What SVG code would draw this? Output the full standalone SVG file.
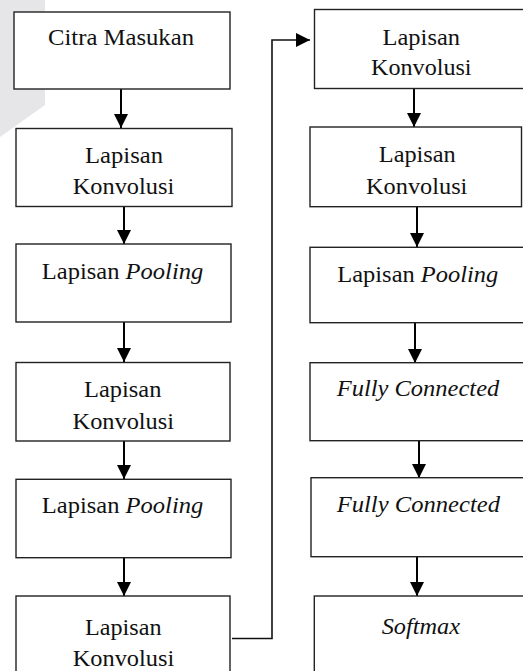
<svg xmlns="http://www.w3.org/2000/svg" width="523" height="671" viewBox="0 0 523 671">
<style>
  .box { fill: #ffffff; stroke: #222222; stroke-width: 1.4; }
  .t { font-size: 24px; fill: #111111; text-anchor: middle; }
  .i { font-style: italic; }
  .c { fill: none; stroke: #000000; stroke-width: 2; }
  .c2 { fill: none; stroke: #111111; stroke-width: 1.6; }
</style>
<defs>
  <marker id="ah" viewBox="0 0 14 14" refX="14" refY="7" markerWidth="14" markerHeight="14" markerUnits="userSpaceOnUse" orient="auto">
    <path d="M0,0 L14,7 L0,14 Z" fill="#000000"/>
  </marker>
</defs>
<rect x="0" y="0" width="523" height="671" fill="#ffffff"/>
<polygon points="0,0 45,0 45,105 0,137" fill="#e6e6e8"/>

<g id="connectors">
  <line class="c" x1="121" y1="89" x2="121" y2="128" marker-end="url(#ah)"/>
  <line class="c" x1="124" y1="207" x2="124" y2="244" marker-end="url(#ah)"/>
  <line class="c" x1="124" y1="322" x2="124" y2="362" marker-end="url(#ah)"/>
  <line class="c" x1="124" y1="441" x2="124" y2="479" marker-end="url(#ah)"/>
  <line class="c" x1="124" y1="558" x2="124" y2="596" marker-end="url(#ah)"/>
  <polyline class="c2" points="232,638.5 272,638.5 272,40 310,40" marker-end="url(#ah)"/>
  <line class="c" x1="414" y1="88" x2="414" y2="127" marker-end="url(#ah)"/>
  <line class="c" x1="417" y1="207" x2="417" y2="247" marker-end="url(#ah)"/>
  <line class="c" x1="415" y1="323" x2="415" y2="363" marker-end="url(#ah)"/>
  <line class="c" x1="419" y1="441" x2="419" y2="478" marker-end="url(#ah)"/>
  <line class="c" x1="417" y1="557" x2="417" y2="596" marker-end="url(#ah)"/>
</g>

<g font-family="Liberation Serif, DejaVu Serif, Noto Serif, Times New Roman, Times, serif">
<g id="n1">
  <rect class="box" x="14" y="12" width="216" height="77"/>
  <text class="t" x="121" y="45" textLength="146" lengthAdjust="spacingAndGlyphs">Citra Masukan</text>
</g>
<g id="n2">
  <rect class="box" x="16" y="128.5" width="216" height="78"/>
  <text class="t" x="124" y="163" textLength="78" lengthAdjust="spacingAndGlyphs">Lapisan</text>
  <text class="t" x="123.5" y="194" textLength="101.5" lengthAdjust="spacingAndGlyphs">Konvolusi</text>
</g>
<g id="n3">
  <rect class="box" x="16" y="244" width="215" height="78"/>
  <text class="t" x="122.5" y="278.5" textLength="161.5" lengthAdjust="spacingAndGlyphs">Lapisan <tspan class="i">Pooling</tspan></text>
</g>
<g id="n4">
  <rect class="box" x="16" y="362.5" width="214" height="78.5"/>
  <text class="t" x="122.7" y="397" textLength="77.5" lengthAdjust="spacingAndGlyphs">Lapisan</text>
  <text class="t" x="123.3" y="429" textLength="101.5" lengthAdjust="spacingAndGlyphs">Konvolusi</text>
</g>
<g id="n5">
  <rect class="box" x="16" y="479.3" width="215" height="78.4"/>
  <text class="t" x="122.5" y="513" textLength="161.5" lengthAdjust="spacingAndGlyphs">Lapisan <tspan class="i">Pooling</tspan></text>
</g>
<g id="n6">
  <rect class="box" x="16" y="596" width="214" height="90"/>
  <text class="t" x="123.3" y="634.5" textLength="76.5" lengthAdjust="spacingAndGlyphs">Lapisan</text>
  <text class="t" x="123.5" y="666" textLength="101.5" lengthAdjust="spacingAndGlyphs">Konvolusi</text>
</g>

<g id="n7">
  <rect class="box" x="314.5" y="9.5" width="220" height="79"/>
  <text class="t" x="421.3" y="45" textLength="77.5" lengthAdjust="spacingAndGlyphs">Lapisan</text>
  <text class="t" x="421.3" y="75" textLength="100.5" lengthAdjust="spacingAndGlyphs">Konvolusi</text>
</g>
<g id="n8">
  <rect class="box" x="310" y="127" width="211.5" height="79.7"/>
  <text class="t" x="417.3" y="162" textLength="77" lengthAdjust="spacingAndGlyphs">Lapisan</text>
  <text class="t" x="416.7" y="193.5" textLength="101.3" lengthAdjust="spacingAndGlyphs">Konvolusi</text>
</g>
<g id="n9">
  <rect class="box" x="310" y="247.3" width="220" height="75.4"/>
  <text class="t" x="417.8" y="282" textLength="161" lengthAdjust="spacingAndGlyphs">Lapisan <tspan class="i">Pooling</tspan></text>
</g>
<g id="n10">
  <rect class="box" x="310" y="362.7" width="220" height="78"/>
  <text class="t i" x="418" y="396" textLength="162.6" lengthAdjust="spacingAndGlyphs">Fully Connected</text>
</g>
<g id="n11">
  <rect class="box" x="311" y="477.7" width="220" height="79"/>
  <text class="t i" x="418.3" y="511.7" textLength="163.3" lengthAdjust="spacingAndGlyphs">Fully Connected</text>
</g>
<g id="n12">
  <rect class="box" x="314.3" y="596" width="220" height="90"/>
  <text class="t i" x="420.8" y="634" textLength="78.3" lengthAdjust="spacingAndGlyphs">Softmax</text>
</g>
</g>
</svg>
